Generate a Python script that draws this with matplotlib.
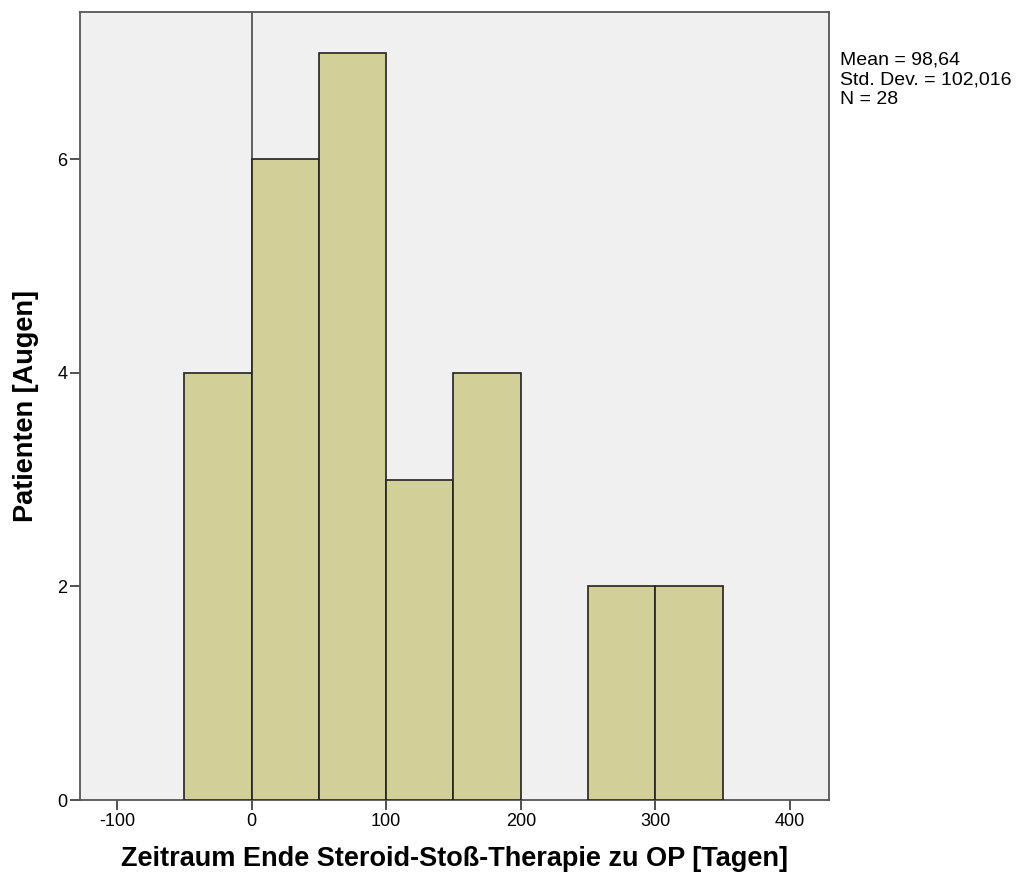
import matplotlib.pyplot as plt
import numpy as np

plt.rcParams['font.family'] = ['Liberation Sans', 'DejaVu Sans']
plt.rcParams['axes.unicode_minus'] = False

# histogram bins (days) and counts per bin
bin_edges = [-50, 0, 50, 100, 150, 200, 250, 300, 350]
counts = [4, 6, 7, 3, 4, 0, 2, 2]
stats_text = "Mean = 98,64\nStd. Dev. = 102,016\nN = 28"

fig = plt.figure(figsize=(10.16, 8.81), dpi=100)
ax = fig.add_axes([0.0787, 0.0919, 0.7373, 0.8945])
ax.set_facecolor('#f0f0f0')

lefts = np.array(bin_edges[:-1])
widths = np.diff(bin_edges)
for l, w, c in zip(lefts, widths, counts):
    if c > 0:
        ax.bar(l, c, width=w, align='edge', color='#d3cf98',
               edgecolor='#222222', linewidth=1.2, zorder=3)

# reference line at zero
ax.axvline(0, color='#555555', linewidth=1.3, zorder=2)

ax.set_xlim(-127.5, 429)
ax.set_ylim(0, 7.38)
ax.set_xticks([-100, 0, 100, 200, 300, 400])
ax.set_yticks([0, 2, 4, 6])
ax.tick_params(axis='both', labelsize=13, length=7, width=1.2,
               color='#333333', pad=2)

for s in ax.spines.values():
    s.set_color('#555555')
    s.set_linewidth(1.3)

ax.set_xlabel('Zeitraum Ende Steroid-Stoß-Therapie zu OP [Tagen]',
              fontsize=19.5, fontweight='bold', labelpad=12)
ax.set_ylabel('Patienten [Augen]', fontsize=19.5, fontweight='bold', labelpad=13)

fig.text(0.827, 0.941, stats_text, fontsize=14, va='top', ha='left',
         linespacing=1.18)

fig.savefig('out.png', dpi=100)
